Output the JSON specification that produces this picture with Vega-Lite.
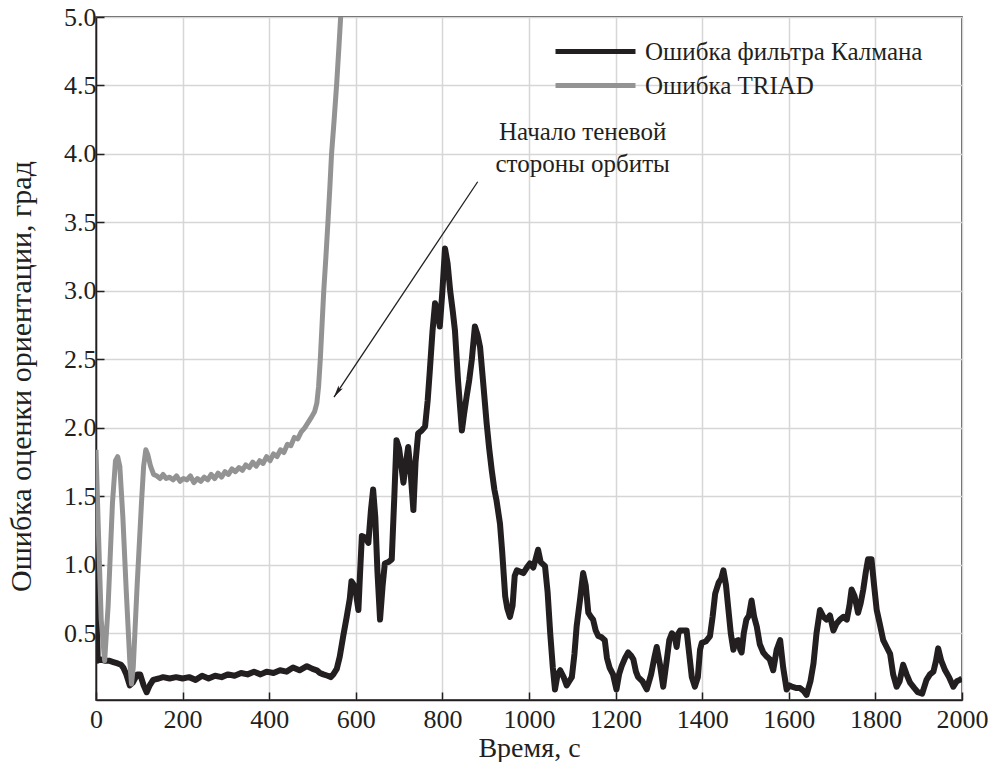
{
  "$schema": "https://vega.github.io/schema/vega-lite/v6.json",
  "width": 866,
  "height": 683,
  "autosize": {"type": "none"},
  "padding": {"left": 96, "top": 17, "right": 28, "bottom": 62},
  "background": "white",
  "config": {
    "view": {"stroke": "#231f20", "strokeWidth": 1.5},
    "font": "Times New Roman, Liberation Serif, DejaVu Serif, serif",
    "axis": {
      "labelFont": "Times New Roman, Liberation Serif, DejaVu Serif, serif",
      "labelFontSize": 26,
      "labelColor": "#231f20",
      "titleFont": "Times New Roman, Liberation Serif, DejaVu Serif, serif",
      "titleFontSize": 28,
      "titleFontWeight": "normal",
      "titleColor": "#231f20",
      "domainColor": "#231f20",
      "domainWidth": 1.5,
      "tickColor": "#231f20",
      "tickWidth": 1.5,
      "tickSize": -8,
      "gridColor": "#d6d6d6",
      "gridWidth": 1.5,
      "gridOpacity": 1
    }
  },
  "datasets": {
    "errors": [
      {"t": 0, "v": 1.25, "series": "Ошибка фильтра Калмана"},
      {"t": 2, "v": 0.6, "series": "Ошибка фильтра Калмана"},
      {"t": 4, "v": 0.3, "series": "Ошибка фильтра Калмана"},
      {"t": 10, "v": 0.31, "series": "Ошибка фильтра Калмана"},
      {"t": 20, "v": 0.3, "series": "Ошибка фильтра Калмана"},
      {"t": 30, "v": 0.3, "series": "Ошибка фильтра Калмана"},
      {"t": 40, "v": 0.29, "series": "Ошибка фильтра Калмана"},
      {"t": 50, "v": 0.28, "series": "Ошибка фильтра Калмана"},
      {"t": 58, "v": 0.27, "series": "Ошибка фильтра Калмана"},
      {"t": 63, "v": 0.25, "series": "Ошибка фильтра Калмана"},
      {"t": 70, "v": 0.2, "series": "Ошибка фильтра Калмана"},
      {"t": 78, "v": 0.12, "series": "Ошибка фильтра Калмана"},
      {"t": 85, "v": 0.14, "series": "Ошибка фильтра Калмана"},
      {"t": 95, "v": 0.2, "series": "Ошибка фильтра Калмана"},
      {"t": 102, "v": 0.2, "series": "Ошибка фильтра Калмана"},
      {"t": 110, "v": 0.12, "series": "Ошибка фильтра Калмана"},
      {"t": 117, "v": 0.07, "series": "Ошибка фильтра Калмана"},
      {"t": 124, "v": 0.12, "series": "Ошибка фильтра Калмана"},
      {"t": 132, "v": 0.16, "series": "Ошибка фильтра Калмана"},
      {"t": 145, "v": 0.17, "series": "Ошибка фильтра Калмана"},
      {"t": 155, "v": 0.18, "series": "Ошибка фильтра Калмана"},
      {"t": 170, "v": 0.17, "series": "Ошибка фильтра Калмана"},
      {"t": 185, "v": 0.18, "series": "Ошибка фильтра Калмана"},
      {"t": 200, "v": 0.17, "series": "Ошибка фильтра Калмана"},
      {"t": 215, "v": 0.18, "series": "Ошибка фильтра Калмана"},
      {"t": 230, "v": 0.16, "series": "Ошибка фильтра Калмана"},
      {"t": 245, "v": 0.19, "series": "Ошибка фильтра Калмана"},
      {"t": 260, "v": 0.17, "series": "Ошибка фильтра Калмана"},
      {"t": 275, "v": 0.19, "series": "Ошибка фильтра Калмана"},
      {"t": 290, "v": 0.18, "series": "Ошибка фильтра Калмана"},
      {"t": 305, "v": 0.2, "series": "Ошибка фильтра Калмана"},
      {"t": 320, "v": 0.19, "series": "Ошибка фильтра Калмана"},
      {"t": 335, "v": 0.21, "series": "Ошибка фильтра Калмана"},
      {"t": 350, "v": 0.2, "series": "Ошибка фильтра Калмана"},
      {"t": 365, "v": 0.22, "series": "Ошибка фильтра Калмана"},
      {"t": 380, "v": 0.2, "series": "Ошибка фильтра Калмана"},
      {"t": 394, "v": 0.22, "series": "Ошибка фильтра Калмана"},
      {"t": 410, "v": 0.21, "series": "Ошибка фильтра Калмана"},
      {"t": 425, "v": 0.23, "series": "Ошибка фильтра Калмана"},
      {"t": 440, "v": 0.22, "series": "Ошибка фильтра Калмана"},
      {"t": 455, "v": 0.25, "series": "Ошибка фильтра Калмана"},
      {"t": 470, "v": 0.23, "series": "Ошибка фильтра Калмана"},
      {"t": 487, "v": 0.26, "series": "Ошибка фильтра Калмана"},
      {"t": 500, "v": 0.24, "series": "Ошибка фильтра Калмана"},
      {"t": 510, "v": 0.23, "series": "Ошибка фильтра Калмана"},
      {"t": 517, "v": 0.21, "series": "Ошибка фильтра Калмана"},
      {"t": 525, "v": 0.2, "series": "Ошибка фильтра Калмана"},
      {"t": 535, "v": 0.19, "series": "Ошибка фильтра Калмана"},
      {"t": 542, "v": 0.18, "series": "Ошибка фильтра Калмана"},
      {"t": 548, "v": 0.2, "series": "Ошибка фильтра Калмана"},
      {"t": 556, "v": 0.24, "series": "Ошибка фильтра Калмана"},
      {"t": 563, "v": 0.33, "series": "Ошибка фильтра Калмана"},
      {"t": 571, "v": 0.48, "series": "Ошибка фильтра Калмана"},
      {"t": 579, "v": 0.62, "series": "Ошибка фильтра Калмана"},
      {"t": 586, "v": 0.75, "series": "Ошибка фильтра Калмана"},
      {"t": 590, "v": 0.88, "series": "Ошибка фильтра Калмана"},
      {"t": 596, "v": 0.85, "series": "Ошибка фильтра Калмана"},
      {"t": 601, "v": 0.78, "series": "Ошибка фильтра Калмана"},
      {"t": 606, "v": 0.67, "series": "Ошибка фильтра Калмана"},
      {"t": 610, "v": 0.95, "series": "Ошибка фильтра Калмана"},
      {"t": 614, "v": 1.21, "series": "Ошибка фильтра Калмана"},
      {"t": 622, "v": 1.2, "series": "Ошибка фильтра Калмана"},
      {"t": 629, "v": 1.16, "series": "Ошибка фильтра Калмана"},
      {"t": 635, "v": 1.4, "series": "Ошибка фильтра Калмана"},
      {"t": 640, "v": 1.55, "series": "Ошибка фильтра Калмана"},
      {"t": 645, "v": 1.35, "series": "Ошибка фильтра Калмана"},
      {"t": 650, "v": 0.95, "series": "Ошибка фильтра Калмана"},
      {"t": 656, "v": 0.6, "series": "Ошибка фильтра Калмана"},
      {"t": 662, "v": 0.85, "series": "Ошибка фильтра Калмана"},
      {"t": 667, "v": 1.01, "series": "Ошибка фильтра Калмана"},
      {"t": 675, "v": 1.02, "series": "Ошибка фильтра Калмана"},
      {"t": 683, "v": 1.04, "series": "Ошибка фильтра Калмана"},
      {"t": 689, "v": 1.5, "series": "Ошибка фильтра Калмана"},
      {"t": 694, "v": 1.91, "series": "Ошибка фильтра Калмана"},
      {"t": 700, "v": 1.85, "series": "Ошибка фильтра Калмана"},
      {"t": 706, "v": 1.7, "series": "Ошибка фильтра Калмана"},
      {"t": 710, "v": 1.6, "series": "Ошибка фильтра Калмана"},
      {"t": 716, "v": 1.75, "series": "Ошибка фильтра Калмана"},
      {"t": 721, "v": 1.86, "series": "Ошибка фильтра Калмана"},
      {"t": 726, "v": 1.7, "series": "Ошибка фильтра Калмана"},
      {"t": 733, "v": 1.4, "series": "Ошибка фильтра Калмана"},
      {"t": 738, "v": 1.75, "series": "Ошибка фильтра Калмана"},
      {"t": 744, "v": 1.96, "series": "Ошибка фильтра Калмана"},
      {"t": 752, "v": 1.98, "series": "Ошибка фильтра Калмана"},
      {"t": 760, "v": 2.01, "series": "Ошибка фильтра Калмана"},
      {"t": 766, "v": 2.2, "series": "Ошибка фильтра Калмана"},
      {"t": 771, "v": 2.42, "series": "Ошибка фильтра Калмана"},
      {"t": 777, "v": 2.7, "series": "Ошибка фильтра Калмана"},
      {"t": 783, "v": 2.91, "series": "Ошибка фильтра Калмана"},
      {"t": 789, "v": 2.85, "series": "Ошибка фильтра Калмана"},
      {"t": 794, "v": 2.74, "series": "Ошибка фильтра Калмана"},
      {"t": 800, "v": 3.0, "series": "Ошибка фильтра Калмана"},
      {"t": 806, "v": 3.31, "series": "Ошибка фильтра Калмана"},
      {"t": 812, "v": 3.2, "series": "Ошибка фильтра Калмана"},
      {"t": 818, "v": 3.0, "series": "Ошибка фильтра Калмана"},
      {"t": 824, "v": 2.85, "series": "Ошибка фильтра Калмана"},
      {"t": 829, "v": 2.71, "series": "Ошибка фильтра Калмана"},
      {"t": 836, "v": 2.35, "series": "Ошибка фильтра Калмана"},
      {"t": 845, "v": 1.98, "series": "Ошибка фильтра Калмана"},
      {"t": 850, "v": 2.1, "series": "Ошибка фильтра Калмана"},
      {"t": 856, "v": 2.23, "series": "Ошибка фильтра Калмана"},
      {"t": 862, "v": 2.35, "series": "Ошибка фильтра Калмана"},
      {"t": 868, "v": 2.5, "series": "Ошибка фильтра Калмана"},
      {"t": 875, "v": 2.74, "series": "Ошибка фильтра Калмана"},
      {"t": 881, "v": 2.68, "series": "Ошибка фильтра Калмана"},
      {"t": 887, "v": 2.59, "series": "Ошибка фильтра Калмана"},
      {"t": 895, "v": 2.3, "series": "Ошибка фильтра Калмана"},
      {"t": 902, "v": 2.04, "series": "Ошибка фильтра Калмана"},
      {"t": 908, "v": 1.85, "series": "Ошибка фильтра Калмана"},
      {"t": 914, "v": 1.69, "series": "Ошибка фильтра Калмана"},
      {"t": 920, "v": 1.55, "series": "Ошибка фильтра Калмана"},
      {"t": 925, "v": 1.47, "series": "Ошибка фильтра Калмана"},
      {"t": 933, "v": 1.3, "series": "Ошибка фильтра Калмана"},
      {"t": 938, "v": 1.1, "series": "Ошибка фильтра Калмана"},
      {"t": 945, "v": 0.77, "series": "Ошибка фильтра Калмана"},
      {"t": 950, "v": 0.68, "series": "Ошибка фильтра Калмана"},
      {"t": 956, "v": 0.62, "series": "Ошибка фильтра Калмана"},
      {"t": 962, "v": 0.7, "series": "Ошибка фильтра Калмана"},
      {"t": 967, "v": 0.92, "series": "Ошибка фильтра Калмана"},
      {"t": 972, "v": 0.96, "series": "Ошибка фильтра Калмана"},
      {"t": 980, "v": 0.95, "series": "Ошибка фильтра Калмана"},
      {"t": 987, "v": 0.94, "series": "Ошибка фильтра Калмана"},
      {"t": 995, "v": 0.98, "series": "Ошибка фильтра Калмана"},
      {"t": 1002, "v": 1.01, "series": "Ошибка фильтра Калмана"},
      {"t": 1010, "v": 0.98, "series": "Ошибка фильтра Калмана"},
      {"t": 1016, "v": 1.05, "series": "Ошибка фильтра Калмана"},
      {"t": 1021, "v": 1.11, "series": "Ошибка фильтра Калмана"},
      {"t": 1027, "v": 1.02, "series": "Ошибка фильтра Калмана"},
      {"t": 1037, "v": 0.99, "series": "Ошибка фильтра Калмана"},
      {"t": 1043, "v": 0.8, "series": "Ошибка фильтра Калмана"},
      {"t": 1049, "v": 0.5, "series": "Ошибка фильтра Калмана"},
      {"t": 1055, "v": 0.25, "series": "Ошибка фильтра Калмана"},
      {"t": 1060, "v": 0.09, "series": "Ошибка фильтра Калмана"},
      {"t": 1066, "v": 0.2, "series": "Ошибка фильтра Калмана"},
      {"t": 1072, "v": 0.23, "series": "Ошибка фильтра Калмана"},
      {"t": 1080, "v": 0.18, "series": "Ошибка фильтра Калмана"},
      {"t": 1087, "v": 0.12, "series": "Ошибка фильтра Калмана"},
      {"t": 1093, "v": 0.15, "series": "Ошибка фильтра Калмана"},
      {"t": 1099, "v": 0.18, "series": "Ошибка фильтра Калмана"},
      {"t": 1105, "v": 0.35, "series": "Ошибка фильтра Калмана"},
      {"t": 1110, "v": 0.55, "series": "Ошибка фильтра Калмана"},
      {"t": 1118, "v": 0.75, "series": "Ошибка фильтра Калмана"},
      {"t": 1125, "v": 0.94, "series": "Ошибка фильтра Калмана"},
      {"t": 1131, "v": 0.85, "series": "Ошибка фильтра Калмана"},
      {"t": 1137, "v": 0.65, "series": "Ошибка фильтра Калмана"},
      {"t": 1143, "v": 0.62, "series": "Ошибка фильтра Калмана"},
      {"t": 1148, "v": 0.6, "series": "Ошибка фильтра Калмана"},
      {"t": 1154, "v": 0.52, "series": "Ошибка фильтра Калмана"},
      {"t": 1160, "v": 0.48, "series": "Ошибка фильтра Калмана"},
      {"t": 1168, "v": 0.47, "series": "Ошибка фильтра Калмана"},
      {"t": 1175, "v": 0.45, "series": "Ошибка фильтра Калмана"},
      {"t": 1180, "v": 0.32, "series": "Ошибка фильтра Калмана"},
      {"t": 1186, "v": 0.25, "series": "Ошибка фильтра Калмана"},
      {"t": 1194, "v": 0.2, "series": "Ошибка фильтра Калмана"},
      {"t": 1202, "v": 0.09, "series": "Ошибка фильтра Калмана"},
      {"t": 1208, "v": 0.2, "series": "Ошибка фильтра Калмана"},
      {"t": 1214, "v": 0.26, "series": "Ошибка фильтра Калмана"},
      {"t": 1222, "v": 0.32, "series": "Ошибка фильтра Калмана"},
      {"t": 1229, "v": 0.36, "series": "Ошибка фильтра Калмана"},
      {"t": 1235, "v": 0.34, "series": "Ошибка фильтра Калмана"},
      {"t": 1241, "v": 0.31, "series": "Ошибка фильтра Калмана"},
      {"t": 1247, "v": 0.22, "series": "Ошибка фильтра Калмана"},
      {"t": 1252, "v": 0.18, "series": "Ошибка фильтра Калмана"},
      {"t": 1262, "v": 0.15, "series": "Ошибка фильтра Калмана"},
      {"t": 1272, "v": 0.09, "series": "Ошибка фильтра Калмана"},
      {"t": 1282, "v": 0.2, "series": "Ошибка фильтра Калмана"},
      {"t": 1290, "v": 0.33, "series": "Ошибка фильтра Калмана"},
      {"t": 1295, "v": 0.4, "series": "Ошибка фильтра Калмана"},
      {"t": 1302, "v": 0.28, "series": "Ошибка фильтра Калмана"},
      {"t": 1310, "v": 0.11, "series": "Ошибка фильтра Калмана"},
      {"t": 1318, "v": 0.3, "series": "Ошибка фильтра Калмана"},
      {"t": 1324, "v": 0.45, "series": "Ошибка фильтра Калмана"},
      {"t": 1330, "v": 0.5, "series": "Ошибка фильтра Калмана"},
      {"t": 1336, "v": 0.48, "series": "Ошибка фильтра Калмана"},
      {"t": 1341, "v": 0.4, "series": "Ошибка фильтра Калмана"},
      {"t": 1345, "v": 0.5, "series": "Ошибка фильтра Калмана"},
      {"t": 1349, "v": 0.52, "series": "Ошибка фильтра Калмана"},
      {"t": 1357, "v": 0.52, "series": "Ошибка фильтра Калмана"},
      {"t": 1364, "v": 0.52, "series": "Ошибка фильтра Калмана"},
      {"t": 1370, "v": 0.35, "series": "Ошибка фильтра Калмана"},
      {"t": 1376, "v": 0.18, "series": "Ошибка фильтра Калмана"},
      {"t": 1383, "v": 0.11, "series": "Ошибка фильтра Калмана"},
      {"t": 1390, "v": 0.18, "series": "Ошибка фильтра Калмана"},
      {"t": 1395, "v": 0.38, "series": "Ошибка фильтра Калмана"},
      {"t": 1399, "v": 0.43, "series": "Ошибка фильтра Калмана"},
      {"t": 1408, "v": 0.44, "series": "Ошибка фильтра Калмана"},
      {"t": 1418, "v": 0.48, "series": "Ошибка фильтра Калмана"},
      {"t": 1424, "v": 0.62, "series": "Ошибка фильтра Калмана"},
      {"t": 1430, "v": 0.79, "series": "Ошибка фильтра Калмана"},
      {"t": 1438, "v": 0.87, "series": "Ошибка фильтра Калмана"},
      {"t": 1444, "v": 0.9, "series": "Ошибка фильтра Калмана"},
      {"t": 1449, "v": 0.96, "series": "Ошибка фильтра Калмана"},
      {"t": 1455, "v": 0.85, "series": "Ошибка фильтра Калмана"},
      {"t": 1460, "v": 0.69, "series": "Ошибка фильтра Калмана"},
      {"t": 1466, "v": 0.5, "series": "Ошибка фильтра Калмана"},
      {"t": 1472, "v": 0.38, "series": "Ошибка фильтра Калмана"},
      {"t": 1477, "v": 0.44, "series": "Ошибка фильтра Калмана"},
      {"t": 1483, "v": 0.45, "series": "Ошибка фильтра Калмана"},
      {"t": 1488, "v": 0.38, "series": "Ошибка фильтра Калмана"},
      {"t": 1491, "v": 0.36, "series": "Ошибка фильтра Калмана"},
      {"t": 1496, "v": 0.5, "series": "Ошибка фильтра Калмана"},
      {"t": 1502, "v": 0.6, "series": "Ошибка фильтра Калмана"},
      {"t": 1508, "v": 0.63, "series": "Ошибка фильтра Калмана"},
      {"t": 1514, "v": 0.74, "series": "Ошибка фильтра Калмана"},
      {"t": 1520, "v": 0.62, "series": "Ошибка фильтра Калмана"},
      {"t": 1526, "v": 0.55, "series": "Ошибка фильтра Калмана"},
      {"t": 1533, "v": 0.42, "series": "Ошибка фильтра Калмана"},
      {"t": 1541, "v": 0.36, "series": "Ошибка фильтра Калмана"},
      {"t": 1549, "v": 0.33, "series": "Ошибка фильтра Калмана"},
      {"t": 1556, "v": 0.31, "series": "Ошибка фильтра Калмана"},
      {"t": 1564, "v": 0.23, "series": "Ошибка фильтра Калмана"},
      {"t": 1572, "v": 0.38, "series": "Ошибка фильтра Калмана"},
      {"t": 1580, "v": 0.45, "series": "Ошибка фильтра Калмана"},
      {"t": 1587, "v": 0.25, "series": "Ошибка фильтра Калмана"},
      {"t": 1595, "v": 0.09, "series": "Ошибка фильтра Калмана"},
      {"t": 1601, "v": 0.12, "series": "Ошибка фильтра Калмана"},
      {"t": 1607, "v": 0.11, "series": "Ошибка фильтра Калмана"},
      {"t": 1618, "v": 0.1, "series": "Ошибка фильтра Калмана"},
      {"t": 1626, "v": 0.1, "series": "Ошибка фильтра Калмана"},
      {"t": 1634, "v": 0.08, "series": "Ошибка фильтра Калмана"},
      {"t": 1641, "v": 0.05, "series": "Ошибка фильтра Калмана"},
      {"t": 1650, "v": 0.15, "series": "Ошибка фильтра Калмана"},
      {"t": 1657, "v": 0.28, "series": "Ошибка фильтра Калмана"},
      {"t": 1664, "v": 0.5, "series": "Ошибка фильтра Калмана"},
      {"t": 1672, "v": 0.67, "series": "Ошибка фильтра Калмана"},
      {"t": 1680, "v": 0.62, "series": "Ошибка фильтра Калмана"},
      {"t": 1687, "v": 0.6, "series": "Ошибка фильтра Калмана"},
      {"t": 1695, "v": 0.63, "series": "Ошибка фильтра Калмана"},
      {"t": 1703, "v": 0.52, "series": "Ошибка фильтра Калмана"},
      {"t": 1710, "v": 0.57, "series": "Ошибка фильтра Калмана"},
      {"t": 1718, "v": 0.6, "series": "Ошибка фильтра Калмана"},
      {"t": 1726, "v": 0.62, "series": "Ошибка фильтра Калмана"},
      {"t": 1734, "v": 0.6, "series": "Ошибка фильтра Калмана"},
      {"t": 1740, "v": 0.7, "series": "Ошибка фильтра Калмана"},
      {"t": 1745, "v": 0.82, "series": "Ошибка фильтра Калмана"},
      {"t": 1752, "v": 0.77, "series": "Ошибка фильтра Калмана"},
      {"t": 1760, "v": 0.65, "series": "Ошибка фильтра Калмана"},
      {"t": 1766, "v": 0.72, "series": "Ошибка фильтра Калмана"},
      {"t": 1772, "v": 0.82, "series": "Ошибка фильтра Калмана"},
      {"t": 1778, "v": 0.95, "series": "Ошибка фильтра Калмана"},
      {"t": 1783, "v": 1.04, "series": "Ошибка фильтра Калмана"},
      {"t": 1791, "v": 1.04, "series": "Ошибка фильтра Калмана"},
      {"t": 1797, "v": 0.85, "series": "Ошибка фильтра Калмана"},
      {"t": 1803, "v": 0.67, "series": "Ошибка фильтра Калмана"},
      {"t": 1810, "v": 0.57, "series": "Ошибка фильтра Калмана"},
      {"t": 1818, "v": 0.45, "series": "Ошибка фильтра Калмана"},
      {"t": 1826, "v": 0.4, "series": "Ошибка фильтра Калмана"},
      {"t": 1834, "v": 0.35, "series": "Ошибка фильтра Калмана"},
      {"t": 1841, "v": 0.2, "series": "Ошибка фильтра Калмана"},
      {"t": 1849, "v": 0.11, "series": "Ошибка фильтра Калмана"},
      {"t": 1856, "v": 0.15, "series": "Ошибка фильтра Калмана"},
      {"t": 1864, "v": 0.27, "series": "Ошибка фильтра Калмана"},
      {"t": 1872, "v": 0.2, "series": "Ошибка фильтра Калмана"},
      {"t": 1880, "v": 0.14, "series": "Ошибка фильтра Калмана"},
      {"t": 1890, "v": 0.1, "series": "Ошибка фильтра Калмана"},
      {"t": 1898, "v": 0.07, "series": "Ошибка фильтра Калмана"},
      {"t": 1908, "v": 0.06, "series": "Ошибка фильтра Калмана"},
      {"t": 1918, "v": 0.16, "series": "Ошибка фильтра Калмана"},
      {"t": 1926, "v": 0.2, "series": "Ошибка фильтра Калмана"},
      {"t": 1934, "v": 0.22, "series": "Ошибка фильтра Калмана"},
      {"t": 1940, "v": 0.3, "series": "Ошибка фильтра Калмана"},
      {"t": 1945, "v": 0.39, "series": "Ошибка фильтра Калмана"},
      {"t": 1952, "v": 0.3, "series": "Ошибка фильтра Калмана"},
      {"t": 1961, "v": 0.23, "series": "Ошибка фильтра Калмана"},
      {"t": 1970, "v": 0.18, "series": "Ошибка фильтра Калмана"},
      {"t": 1980, "v": 0.11, "series": "Ошибка фильтра Калмана"},
      {"t": 1988, "v": 0.15, "series": "Ошибка фильтра Калмана"},
      {"t": 1995, "v": 0.16, "series": "Ошибка фильтра Калмана"},
      {"t": 2000, "v": 0.17, "series": "Ошибка фильтра Калмана"},
      {"t": 0, "v": 1.84, "series": "Ошибка TRIAD"},
      {"t": 5, "v": 1.3, "series": "Ошибка TRIAD"},
      {"t": 12, "v": 0.6, "series": "Ошибка TRIAD"},
      {"t": 20, "v": 0.3, "series": "Ошибка TRIAD"},
      {"t": 28, "v": 0.7, "series": "Ошибка TRIAD"},
      {"t": 38, "v": 1.45, "series": "Ошибка TRIAD"},
      {"t": 45, "v": 1.76, "series": "Ошибка TRIAD"},
      {"t": 50, "v": 1.79, "series": "Ошибка TRIAD"},
      {"t": 55, "v": 1.72, "series": "Ошибка TRIAD"},
      {"t": 62, "v": 1.35, "series": "Ошибка TRIAD"},
      {"t": 70, "v": 0.8, "series": "Ошибка TRIAD"},
      {"t": 78, "v": 0.3, "series": "Ошибка TRIAD"},
      {"t": 82, "v": 0.13, "series": "Ошибка TRIAD"},
      {"t": 86, "v": 0.25, "series": "Ошибка TRIAD"},
      {"t": 95, "v": 0.85, "series": "Ошибка TRIAD"},
      {"t": 105, "v": 1.45, "series": "Ошибка TRIAD"},
      {"t": 110, "v": 1.72, "series": "Ошибка TRIAD"},
      {"t": 115, "v": 1.84, "series": "Ошибка TRIAD"},
      {"t": 120, "v": 1.8, "series": "Ошибка TRIAD"},
      {"t": 126, "v": 1.72, "series": "Ошибка TRIAD"},
      {"t": 133, "v": 1.66, "series": "Ошибка TRIAD"},
      {"t": 140, "v": 1.65, "series": "Ошибка TRIAD"},
      {"t": 148, "v": 1.63, "series": "Ошибка TRIAD"},
      {"t": 155, "v": 1.66, "series": "Ошибка TRIAD"},
      {"t": 162, "v": 1.63, "series": "Ошибка TRIAD"},
      {"t": 170, "v": 1.64, "series": "Ошибка TRIAD"},
      {"t": 178, "v": 1.62, "series": "Ошибка TRIAD"},
      {"t": 186, "v": 1.65, "series": "Ошибка TRIAD"},
      {"t": 194, "v": 1.61, "series": "Ошибка TRIAD"},
      {"t": 202, "v": 1.63, "series": "Ошибка TRIAD"},
      {"t": 210, "v": 1.62, "series": "Ошибка TRIAD"},
      {"t": 218, "v": 1.65, "series": "Ошибка TRIAD"},
      {"t": 226, "v": 1.6, "series": "Ошибка TRIAD"},
      {"t": 234, "v": 1.63, "series": "Ошибка TRIAD"},
      {"t": 242, "v": 1.61, "series": "Ошибка TRIAD"},
      {"t": 250, "v": 1.64, "series": "Ошибка TRIAD"},
      {"t": 258, "v": 1.62, "series": "Ошибка TRIAD"},
      {"t": 266, "v": 1.66, "series": "Ошибка TRIAD"},
      {"t": 274, "v": 1.63, "series": "Ошибка TRIAD"},
      {"t": 282, "v": 1.67, "series": "Ошибка TRIAD"},
      {"t": 290, "v": 1.64, "series": "Ошибка TRIAD"},
      {"t": 298, "v": 1.68, "series": "Ошибка TRIAD"},
      {"t": 306, "v": 1.66, "series": "Ошибка TRIAD"},
      {"t": 314, "v": 1.7, "series": "Ошибка TRIAD"},
      {"t": 322, "v": 1.68, "series": "Ошибка TRIAD"},
      {"t": 330, "v": 1.71, "series": "Ошибка TRIAD"},
      {"t": 338, "v": 1.69, "series": "Ошибка TRIAD"},
      {"t": 346, "v": 1.73, "series": "Ошибка TRIAD"},
      {"t": 354, "v": 1.71, "series": "Ошибка TRIAD"},
      {"t": 362, "v": 1.75, "series": "Ошибка TRIAD"},
      {"t": 370, "v": 1.72, "series": "Ошибка TRIAD"},
      {"t": 378, "v": 1.76, "series": "Ошибка TRIAD"},
      {"t": 386, "v": 1.74, "series": "Ошибка TRIAD"},
      {"t": 394, "v": 1.79, "series": "Ошибка TRIAD"},
      {"t": 402, "v": 1.76, "series": "Ошибка TRIAD"},
      {"t": 410, "v": 1.81, "series": "Ошибка TRIAD"},
      {"t": 418, "v": 1.79, "series": "Ошибка TRIAD"},
      {"t": 426, "v": 1.84, "series": "Ошибка TRIAD"},
      {"t": 434, "v": 1.82, "series": "Ошибка TRIAD"},
      {"t": 442, "v": 1.88, "series": "Ошибка TRIAD"},
      {"t": 450, "v": 1.87, "series": "Ошибка TRIAD"},
      {"t": 458, "v": 1.93, "series": "Ошибка TRIAD"},
      {"t": 466, "v": 1.92, "series": "Ошибка TRIAD"},
      {"t": 474, "v": 1.97, "series": "Ошибка TRIAD"},
      {"t": 482, "v": 2.0, "series": "Ошибка TRIAD"},
      {"t": 490, "v": 2.04, "series": "Ошибка TRIAD"},
      {"t": 498, "v": 2.08, "series": "Ошибка TRIAD"},
      {"t": 505, "v": 2.12, "series": "Ошибка TRIAD"},
      {"t": 510, "v": 2.18, "series": "Ошибка TRIAD"},
      {"t": 514, "v": 2.3, "series": "Ошибка TRIAD"},
      {"t": 518, "v": 2.5, "series": "Ошибка TRIAD"},
      {"t": 522, "v": 2.75, "series": "Ошибка TRIAD"},
      {"t": 526, "v": 3.0, "series": "Ошибка TRIAD"},
      {"t": 531, "v": 3.25, "series": "Ошибка TRIAD"},
      {"t": 536, "v": 3.52, "series": "Ошибка TRIAD"},
      {"t": 540, "v": 3.75, "series": "Ошибка TRIAD"},
      {"t": 544, "v": 4.0, "series": "Ошибка TRIAD"},
      {"t": 550, "v": 4.25, "series": "Ошибка TRIAD"},
      {"t": 556, "v": 4.52, "series": "Ошибка TRIAD"},
      {"t": 561, "v": 4.78, "series": "Ошибка TRIAD"},
      {"t": 565, "v": 5.0, "series": "Ошибка TRIAD"},
      {"t": 570, "v": 5.3, "series": "Ошибка TRIAD"}
    ],
    "note": [
      {"t": 1124, "v": 4.1, "label": ["Начало теневой", "стороны орбиты"]}
    ],
    "arrow": [
      {"t": 881.5, "v": 3.797, "t2": 549.7, "v2": 2.225}
    ]
  },
  "layer": [
    {
      "data": {"name": "errors"},
      "transform": [{"filter": "datum.series === 'Ошибка фильтра Калмана'"}],
      "mark": {"type": "line", "strokeWidth": 6, "clip": true, "strokeJoin": "round"},
      "encoding": {
        "x": {
          "field": "t", "type": "quantitative",
          "scale": {"domain": [0, 2000], "nice": false, "zero": false},
          "axis": {
            "title": "Время, с",
            "values": [0, 200, 400, 600, 800, 1000, 1200, 1400, 1600, 1800, 2000],
            "format": "d",
            "labelPadding": 14,
            "titlePadding": 2,
            "labelFlush": false
          }
        },
        "y": {
          "field": "v", "type": "quantitative",
          "scale": {"domain": [0.013, 5], "nice": false, "zero": false},
          "axis": {
            "title": "Ошибка оценки ориентации, град",
            "titleFontSize": 30,
            "titleY": 359,
            "values": [0.5, 1, 1.5, 2, 2.5, 3, 3.5, 4, 4.5, 5],
            "format": ".1f",
            "labelPadding": 8,
            "titlePadding": 27,
            "labelFlush": false
          }
        },
        "color": {
          "field": "series", "type": "nominal",
          "scale": {
            "domain": ["Ошибка фильтра Калмана", "Ошибка TRIAD"],
            "range": ["#231f20", "#939393"]
          },
          "legend": {
            "orient": "none",
            "legendX": 487,
            "legendY": 22,
            "title": null,
            "padding": 0,
            "symbolType": "M-4,0H4",
            "symbolSize": 400,
            "symbolStrokeWidth": 5,
            "labelOffset": 37,
            "labelLimit": 0,
            "rowPadding": 8,
            "labelFont": "Times New Roman, Liberation Serif, DejaVu Serif, serif",
            "labelFontSize": 25,
            "labelColor": "#231f20"
          }
        }
      }
    },
    {
      "data": {"name": "errors"},
      "transform": [{"filter": "datum.series === 'Ошибка TRIAD'"}],
      "mark": {"type": "line", "strokeWidth": 5, "clip": true, "strokeJoin": "round"},
      "encoding": {
        "x": {"field": "t", "type": "quantitative"},
        "y": {"field": "v", "type": "quantitative"},
        "color": {"field": "series", "type": "nominal"}
      }
    },
    {
      "data": {"name": "arrow"},
      "mark": {"type": "rule", "color": "#231f20", "strokeWidth": 1.3},
      "encoding": {
        "x": {"field": "t", "type": "quantitative"},
        "y": {"field": "v", "type": "quantitative"},
        "x2": {"field": "t2"},
        "y2": {"field": "v2"}
      }
    },
    {
      "data": {"name": "arrow"},
      "mark": {
        "type": "point",
        "shape": "M0,0L-0.35,1.6L0,1.25L0.35,1.6Z",
        "size": 225,
        "angle": 213.7,
        "filled": true,
        "color": "#231f20",
        "opacity": 1
      },
      "encoding": {
        "x": {"field": "t2", "type": "quantitative"},
        "y": {"field": "v2", "type": "quantitative"}
      }
    },
    {
      "data": {"name": "note"},
      "mark": {
        "type": "text",
        "font": "Times New Roman, Liberation Serif, DejaVu Serif, serif",
        "fontSize": 25,
        "align": "center",
        "baseline": "alphabetic",
        "lineHeight": 32,
        "color": "#231f20"
      },
      "encoding": {
        "x": {"field": "t", "type": "quantitative"},
        "y": {"field": "v", "type": "quantitative"},
        "text": {"field": "label"}
      }
    }
  ]
}
